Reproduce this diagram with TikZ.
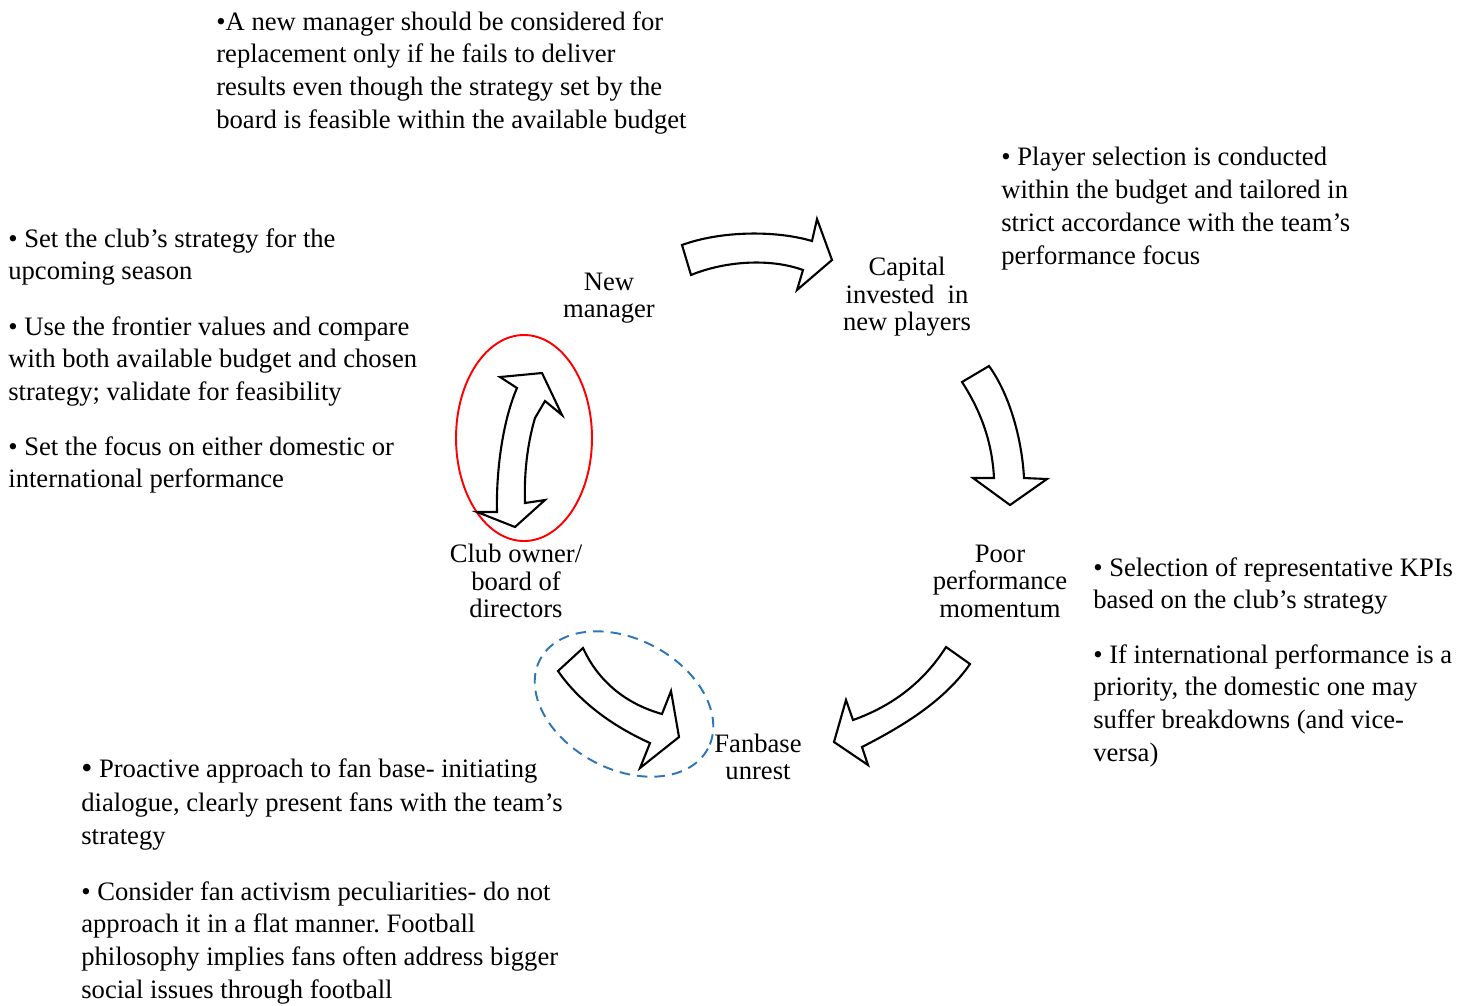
\documentclass[tikz,border=0pt]{standalone}
\usepackage{fontspec}
\setmainfont{Liberation Serif}
\usepackage{xcolor}
\usepackage{tikz}
\usetikzlibrary{positioning, calc}
\definecolor{fanblue}{RGB}{46,117,182}
\frenchspacing

\tikzset{
  note/.style={anchor=north west, inner sep=0pt, align=left, font=\fontsize{15.15}{18.7}\selectfont},
  stage/.style={inner sep=0pt, align=center, font=\fontsize{15.15}{15.6}\selectfont},
  blockarrow/.style={draw=black, line width=1.2pt, fill=white, line join=miter},
}

\begin{document}
\begin{tikzpicture}[x=0.02cm, y=-0.02cm]
    \useasboundingbox (0,0) rectangle (1469,1005);

    % Notes round the cycle
    \node[note] (mgrnote) at (216,11) {•A new manager should be considered for\\replacement only if he fails to deliver\\results even though the strategy set by the\\board is feasible within the available budget};
    \node[note] (capnote) at (1001,147) {• Player selection is conducted\\within the budget and tailored in\\strict accordance with the team’s\\performance focus};
    \node[note] (boardA) at (8,228) {• Set the club’s strategy for the\\upcoming season};
    \node[note] (boardB) at (8,316) {• Use the frontier values and compare\\with both available budget and chosen\\strategy; validate for feasibility};
    \node[note] (boardC) at (8,436) {• Set the focus on either domestic or\\international performance};
    \node[note] (perfA) at (1093,557) {• Selection of representative KPIs\\based on the club’s strategy};
    \node[note] (perfB) at (1093,644) {• If international performance is a\\priority, the domestic one may\\suffer breakdowns (and vice-\\versa)};
    \node[note] (fanA) at (81,758) {\raisebox{-1pt}{\fontsize{18}{18.7}\selectfont •} Proactive approach to fan base- initiating\\[1pt]dialogue, clearly present fans with the team’s\\strategy};
    \node[note] (fanB) at (81,881) {• Consider fan activism peculiarities- do not\\approach it in a flat manner. Football\\philosophy implies fans often address bigger\\social issues through football};

    % Stages of the cycle
    \node[stage] (manager) at (609,298) {New\\manager};
    \node[stage] (capital) at (907,297) {Capital\\invested\ \ in\\new players};
    \node[stage] (poor) at (1000,581) {Poor\\performance\\momentum};
    \node[stage] (fanbase) at (758,757) {Fanbase\\unrest};
    \node[stage] (board) at (516,581) {Club owner/\\board of\\directors};

    % Block arrows
    \draw[blockarrow] (682,245) .. controls (720,231) and (775,230) .. (812,241)
        -- (817,219) -- (832,260) -- (797,290) -- (803,270)
        .. controls (770,258) and (725,261) .. (691,275) -- cycle;
    \draw[blockarrow] (962,382) -- (989,366) .. controls (1010,395) and (1022,440) .. (1024,478)
        -- (1047,479) -- (1010,505) -- (973,478) -- (994,478)
        .. controls (992,440) and (980,410) .. (962,382) -- cycle;
    \draw[blockarrow] (946,647) -- (970,664) .. controls (945,700) and (905,725) .. (862,747)
        -- (868,765) -- (834,742) -- (846,700) -- (853,720)
        .. controls (895,705) and (925,680) .. (946,647) -- cycle;

    % Club owner loop
    \draw[red, line width=1.1pt] (524,438) ellipse [x radius=68, y radius=103];
    \draw[blockarrow] (517,388) -- (500,377) -- (542,373) -- (562,415) -- (545,401) -- (535,418)
        .. controls (527,445) and (524,475) .. (525,503)
        -- (545,500) -- (515,527) -- (477,512) -- (497,512)
        .. controls (496,470) and (503,420) .. (517,388) -- cycle;

    % Fanbase loop
    \draw[fanblue, line width=1.1pt, dash pattern=on 6pt off 4pt, rotate around={-28:(624,704)}]
        (624,704) ellipse [x radius=95, y radius=65];
    \draw[blockarrow] (583,648) -- (558,671) .. controls (578,700) and (610,725) .. (650,743)
        -- (640,768) -- (679,737) -- (671,691) -- (662,714)
        .. controls (630,705) and (600,685) .. (583,648) -- cycle;
\end{tikzpicture}
\end{document}
